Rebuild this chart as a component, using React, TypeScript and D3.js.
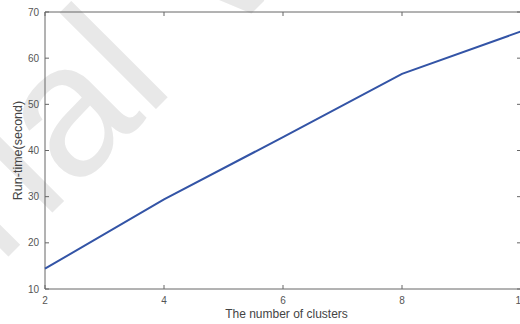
import React from 'react';
import * as d3 from 'd3';

const clusters = [2, 4, 6, 8, 10];
const runTime = [14.4, 29.4, 42.9, 56.6, 65.8];
const xTicks = [2, 4, 6, 8, 10];
const yTicks = [10, 20, 30, 40, 50, 60, 70];

const width = 520;
const height = 324;
const margin = { top: 12, right: -1, bottom: 35, left: 45 };
const axisColor = '#666';
const font = 'Liberation Sans, Arial, sans-serif';

export default function App() {
  const x = d3.scaleLinear().domain([2, 10]).range([margin.left, width - margin.right]);
  const y = d3.scaleLinear().domain([10, 70]).range([height - margin.bottom, margin.top]);
  const line = d3.line<number>().x((d, i) => x(clusters[i])).y(d => y(d));

  const x0 = x(2), x1 = x(10), y0 = y(10), y1 = y(70);

  return (
    <svg width={width} height={height}
      style={{ position: 'absolute', left: 0, top: 0, background: '#fff', overflow: 'hidden' }}>
      {/* faded watermark behind the plot */}
      <text x={0} y={0} transform="translate(-77,342) rotate(-45)"
        fontFamily={font} fontSize={188} fill="#e8e8e8">Trial Version</text>

      <g stroke={axisColor} strokeWidth={1} fill="none">
        <line x1={x0} x2={x1} y1={y0} y2={y0} />
        <line x1={x0} x2={x1} y1={y1} y2={y1} />
        <line x1={x0} x2={x0} y1={y0} y2={y1} />
        <line x1={x1} x2={x1} y1={y0} y2={y1} />
        {xTicks.map(t => (
          <g key={'xt' + t}>
            <line x1={x(t)} x2={x(t)} y1={y0} y2={y0 - 4} />
            <line x1={x(t)} x2={x(t)} y1={y1} y2={y1 + 4} />
          </g>
        ))}
        {yTicks.map(t => (
          <g key={'yt' + t}>
            <line x1={x0} x2={x0 + 4} y1={y(t)} y2={y(t)} />
            <line x1={x1} x2={x1 - 4} y1={y(t)} y2={y(t)} />
          </g>
        ))}
      </g>

      <g fontFamily={font} fontSize={10} fill="#555">
        {xTicks.map(t => (
          <text key={'xl' + t} x={x(t)} y={y0 + 15} textAnchor="middle">{t}</text>
        ))}
        {yTicks.map(t => (
          <text key={'yl' + t} x={x0 - 6} y={y(t)} dy="0.35em" textAnchor="end">{t}</text>
        ))}
      </g>

      <path d={line(runTime) || ''} fill="none" stroke="#3354a6" strokeWidth={2} />

      <text x={(x0 + 528) / 2} y={318} textAnchor="middle" fontFamily={font} fontSize={12} fill="#444">
        The number of clusters
      </text>
      <text transform={`translate(22,${(y0 + y1) / 2}) rotate(-90)`} textAnchor="middle"
        fontFamily={font} fontSize={12.5} fill="#444">
        Run-time(second)
      </text>
    </svg>
  );
}
